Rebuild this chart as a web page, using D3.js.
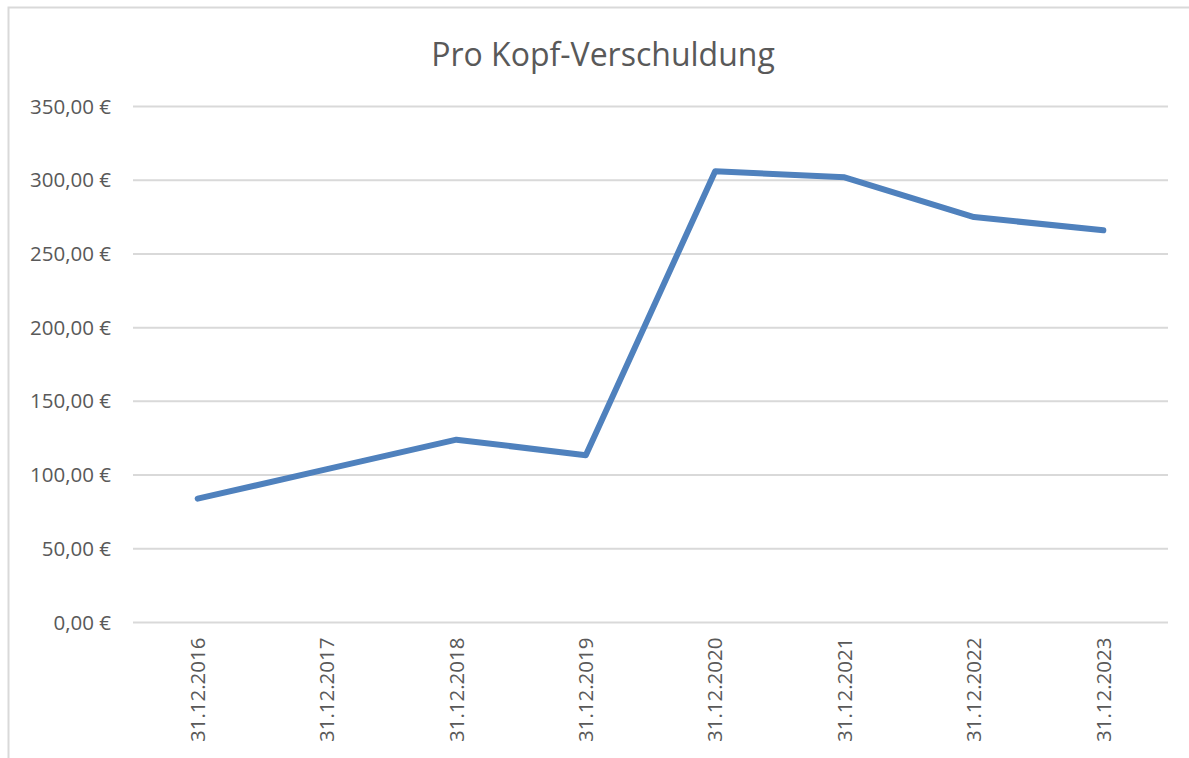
<!DOCTYPE html>
<html>
<head>
<meta charset="utf-8">
<script src="https://cdn.jsdelivr.net/npm/d3@7"></script>
<style>
body { margin: 0; background: #fff; }
text { font-family: "Open Sans", "Noto Sans", sans-serif; fill: #595959; }
</style>
</head>
<body>
<script>
// Pro-Kopf-Verschuldung je Stichtag
var categories = ["31.12.2016", "31.12.2017", "31.12.2018", "31.12.2019",
	"31.12.2020", "31.12.2021", "31.12.2022", "31.12.2023"];
var values = [84, 104, 124, 113.5, 306, 302, 275, 266];
var yTicks = [0, 50, 100, 150, 200, 250, 300, 350];

var width = 1189, height = 758;

var svg = d3.select("body").append("svg")
	.attr("width", width)
	.attr("height", height);

// chart border (only left/top visible in the crop)
svg.append("rect")
	.attr("x", 8.5).attr("y", 7.5)
	.attr("width", 1300).attr("height", 1000)
	.attr("fill", "none")
	.attr("stroke", "#d9d9d9")
	.attr("stroke-width", 2);

svg.append("text")
	.attr("x", 603).attr("y", 66)
	.attr("text-anchor", "middle")
	.style("font-size", "32px")
	.text("Pro Kopf-Verschuldung");

var x = d3.scaleBand()
	.domain(categories)
	.range([133, 1168]);

var y = d3.scaleLinear()
	.domain([0, 350])
	.range([622.5, 106.5]);

// grid lines
svg.append("g")
	.selectAll("line")
	.data(yTicks)
	.enter()
	.append("line")
	.attr("x1", 133)
	.attr("x2", 1168)
	.attr("y1", function(d) { return y(d); })
	.attr("y2", function(d) { return y(d); })
	.attr("stroke", "#d9d9d9")
	.attr("stroke-width", 2);

var yAxis = svg.append("g")
	.attr("transform", "translate(111,0)")
	.call(d3.axisLeft(y)
		.tickValues(yTicks)
		.tickSize(0)
		.tickPadding(0)
		.tickFormat(function(d) { return d3.format(".2f")(d).replace(".", ",") + " €"; }));
yAxis.select(".domain").remove();
yAxis.selectAll("text")
	.style("font-size", "20.5px")
	.attr("fill", "#595959");

var xAxis = svg.append("g")
	.attr("transform", "translate(0,622.5)")
	.call(d3.axisBottom(x).tickSize(0).tickPadding(0));
xAxis.select(".domain").remove();
xAxis.selectAll("text")
	.style("font-size", "20.5px")
	.attr("fill", "#595959")
	.attr("transform", "rotate(-90)")
	.attr("text-anchor", "end")
	.attr("dy", "0.35em")
	.attr("x", -15)
	.attr("y", 0);

var line = d3.line()
	.x(function(d, i) { return x(categories[i]) + x.bandwidth() / 2; })
	.y(function(d) { return y(d); });

svg.append("path")
	.datum(values)
	.attr("d", line)
	.attr("fill", "none")
	.attr("stroke", "#4f81bd")
	.attr("stroke-width", 6)
	.attr("stroke-linecap", "round")
	.attr("stroke-linejoin", "round");
</script>
</body>
</html>
